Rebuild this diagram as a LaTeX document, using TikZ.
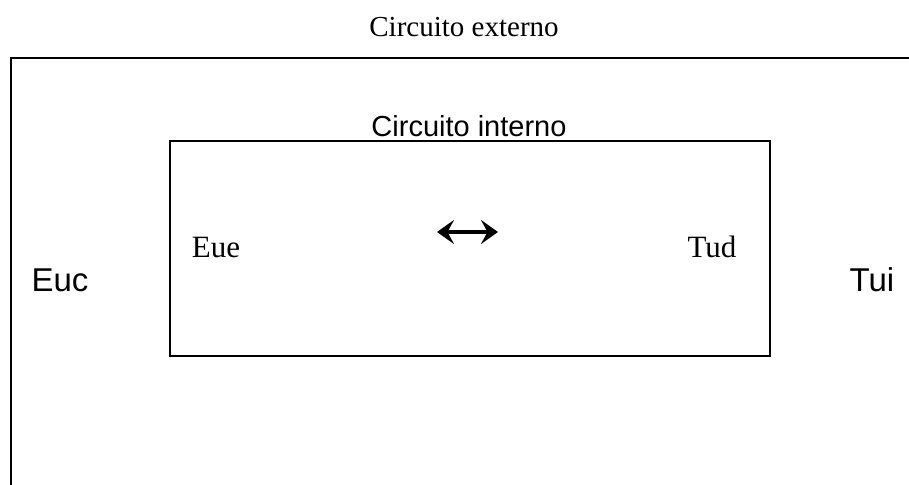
\documentclass[tikz,border=0pt]{standalone}
\usepackage{fontspec}
\setmainfont{Liberation Serif}
\newfontfamily\arialf{Liberation Sans}
\usetikzlibrary{arrows.meta}
\begin{document}
\begin{tikzpicture}[x=1pt,y=-1pt,
  serif/.style={font=\fontsize{29}{34}\selectfont, inner sep=0pt, anchor=base},
  sans/.style={font=\arialf\fontsize{29}{34}\selectfont, inner sep=0pt, anchor=base},
  inlabel/.style={font=\fontsize{31}{36}\selectfont, inner sep=0pt, anchor=base},
  outlabel/.style={font=\arialf\fontsize{33}{38}\selectfont, inner sep=0pt, anchor=base},
  frame/.style={draw=black, line width=2pt},
  dbl/.style={line width=3.2pt, {Stealth[length=17pt,width=24pt,inset=6.5pt]}-{Stealth[length=17pt,width=24pt,inset=6.5pt]}}]
\clip (0,0) rectangle (909,484);
\fill[white] (0,0) rectangle (909,484);
\draw[frame] (11,58) rectangle (930,510);
\draw[frame] (170,141) rectangle (770,356);
\node[serif] (ext) at (464,37) {Circuito externo};
\node[sans] (int) at (469,136) {Circuito interno};
\node[inlabel] (eue) at (216,257) {Eue};
\node[inlabel] (tud) at (712,257) {Tud};
\node[outlabel] (euc) at (60,291) {Euc};
\node[outlabel] (tui) at (872,291) {Tui};
\coordinate (al) at (437,232);
\coordinate (ar) at (498,232);
\draw[dbl] (al) -- (ar);
\end{tikzpicture}
\end{document}
